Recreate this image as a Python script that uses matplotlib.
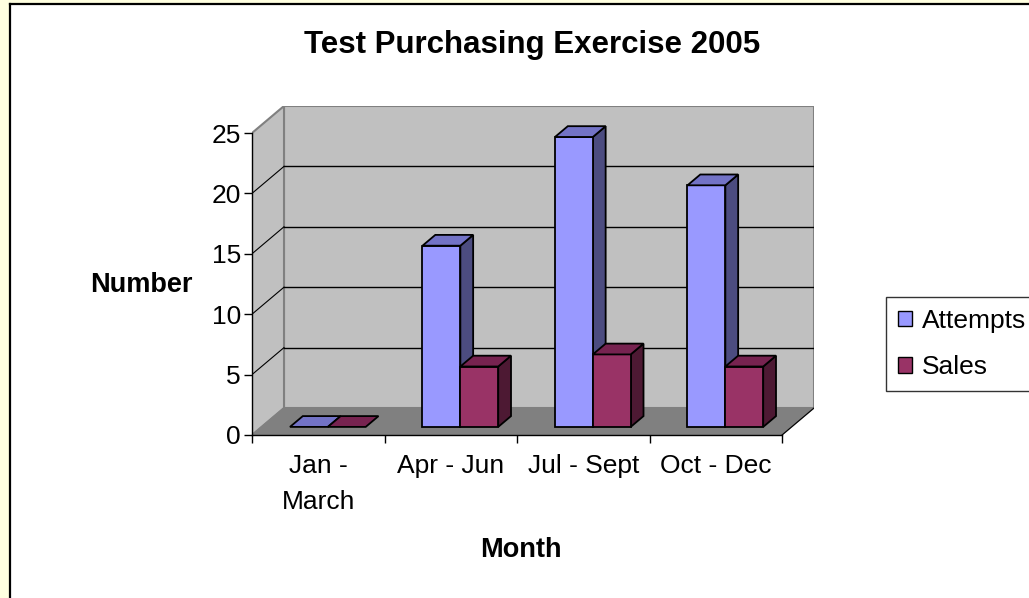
import numpy as np
import matplotlib.pyplot as plt
from matplotlib.patches import Polygon, Rectangle
from matplotlib.lines import Line2D

plt.rcParams['font.family'] = ['Liberation Sans', 'DejaVu Sans']

categories = ["Jan -\nMarch", "Apr - Jun", "Jul - Sept", "Oct - Dec"]
attempts = [0, 15, 24, 20]
sales = [0, 5, 6, 5]
y_ticks = [0, 5, 10, 15, 20, 25]

series = [
    ("Attempts", attempts, "#9999FF", "#7373C6", "#4C4C80"),
    ("Sales", sales, "#993366", "#772350", "#4D1933"),
]

W, H = 1029, 598
fig = plt.figure(figsize=(W / 100, H / 100), dpi=100)
fig.patch.set_facecolor("white")

# yellow frame strip on left/top, with black border line
fig.add_artist(Rectangle((0, 0), 9 / W, 1, transform=fig.transFigure, color="#FFFFE0", lw=0))
fig.add_artist(Rectangle((0, 1 - 3 / H), 1, 3 / H, transform=fig.transFigure, color="#FFFFE0", lw=0))
fig.add_artist(Line2D([10 / W, 10 / W], [0, 1 - 4 / H], transform=fig.transFigure, color="black", lw=1.6))
fig.add_artist(Line2D([10 / W, 1], [1 - 4 / H, 1 - 4 / H], transform=fig.transFigure, color="black", lw=1.6))

# pixel geometry of the front plane
x0px, x1px = 252, 782
y0px, y25px = 435, 133
ncat = len(categories)
ymax = y_ticks[-1]
px_x = (x1px - x0px) / ncat
px_y = (y0px - y25px) / ymax
ddx = 32 / px_x          # depth offset in data units
ddy = 27 / px_y

left = x0px / W
bottom = (H - y0px) / H
width = (ncat + ddx) * px_x / W
height = (ymax + ddy) * px_y / H
ax = fig.add_axes([left, bottom, width, height])
ax.set_xlim(0, ncat + ddx)
ax.set_ylim(0, ymax + ddy)
ax.patch.set_alpha(0)

wall = "#C0C0C0"
floor = "#808080"
edge = "#808080"

# back wall, side wall, floor
ax.add_patch(Polygon([(ddx, ddy), (ncat + ddx, ddy), (ncat + ddx, ymax + ddy), (ddx, ymax + ddy)],
                     closed=True, fc=wall, ec=edge, lw=1.5, zorder=1))
ax.add_patch(Polygon([(0, 0), (ddx, ddy), (ddx, ymax + ddy), (0, ymax)],
                     closed=True, fc=wall, ec=edge, lw=1.5, zorder=1))
ax.add_patch(Polygon([(0, 0), (ncat, 0), (ncat + ddx, ddy), (ddx, ddy)],
                     closed=True, fc=floor, ec=floor, lw=1, zorder=1))
ax.plot([ncat, ncat + ddx], [0, ddy], color="black", lw=0.8, zorder=2)

# gridlines on back and side wall
for t in y_ticks[1:-1]:
    ax.plot([ddx, ncat + ddx], [t + ddy, t + ddy], color="black", lw=1.0, zorder=2)
    ax.plot([0, ddx], [t, t + ddy], color="black", lw=0.8, zorder=2)

# bars
bw = 1 / 3.5
gap = (1 - 2 * bw) / 2
f0, f1 = 0.3, 0.7
for i in range(ncat):
    for s, (name, vals, c_front, c_top, c_side) in enumerate(series):
        v = vals[i]
        xb = i + gap + s * bw + f0 * ddx
        yb = f0 * ddy
        sx, sy = (f1 - f0) * ddx, (f1 - f0) * ddy
        z = 3 + s
        if v > 0:
            ax.add_patch(Polygon([(xb + bw, yb), (xb + bw + sx, yb + sy), (xb + bw + sx, yb + v + sy), (xb + bw, yb + v)],
                                 closed=True, fc=c_side, ec="black", lw=1.3, zorder=z))
            ax.add_patch(Rectangle((xb, yb), bw, v, fc=c_front, ec="black", lw=1.3, zorder=z))
        ax.add_patch(Polygon([(xb, yb + v), (xb + bw, yb + v), (xb + bw + sx, yb + v + sy), (xb + sx, yb + v + sy)],
                             closed=True, fc=c_top, ec="black", lw=1.3, zorder=z))

# axes: y spine on front plane, x spine along floor front edge
for sp in ["top", "right"]:
    ax.spines[sp].set_visible(False)
ax.spines["left"].set_bounds(0, ymax)
ax.spines["bottom"].set_bounds(0, ncat)
ax.spines["left"].set_linewidth(1.0)
ax.spines["bottom"].set_linewidth(1.0)
ax.spines["left"].set_zorder(5)
ax.spines["bottom"].set_zorder(5)

ax.set_yticks(y_ticks)
ax.set_yticklabels([str(t) for t in y_ticks], fontsize=19)
ax.tick_params(axis="y", length=6, width=1.0, pad=2)

ax.set_xticks(np.arange(ncat + 1))
ax.set_xticklabels([])
ax.set_xticks(np.arange(ncat) + 0.5, minor=True)
ax.set_xticklabels(categories, minor=True, fontsize=19, linespacing=1.6)
ax.tick_params(axis="x", which="major", length=6, width=1.0)
ax.tick_params(axis="x", which="minor", length=0, pad=14)

fig.text(532 / W, 1 - 45 / H, "Test Purchasing Exercise 2005", ha="center", va="center",
         fontsize=22.5, fontweight="bold")
fig.text(141 / W, 1 - 285 / H, "Number", ha="center", va="center", fontsize=19.5, fontweight="bold")
fig.text(521 / W, 1 - 550 / H, "Month", ha="center", va="center", fontsize=19.5, fontweight="bold")

handles = [Rectangle((0, 0), 1, 1, fc=c, ec="black", lw=1.0) for _, _, c, _, _ in series]
leg = fig.legend(handles, [n for n, *_ in series], loc="upper left",
                 bbox_to_anchor=(886 / W, 1 - 297 / H), fontsize=19, frameon=True,
                 fancybox=False, edgecolor="black", handlelength=0.55, handleheight=0.55,
                 handletextpad=0.35, borderpad=0.45, labelspacing=0.85, borderaxespad=0)
leg.get_frame().set_linewidth(1.0)

fig.savefig("out.png", dpi=100)
